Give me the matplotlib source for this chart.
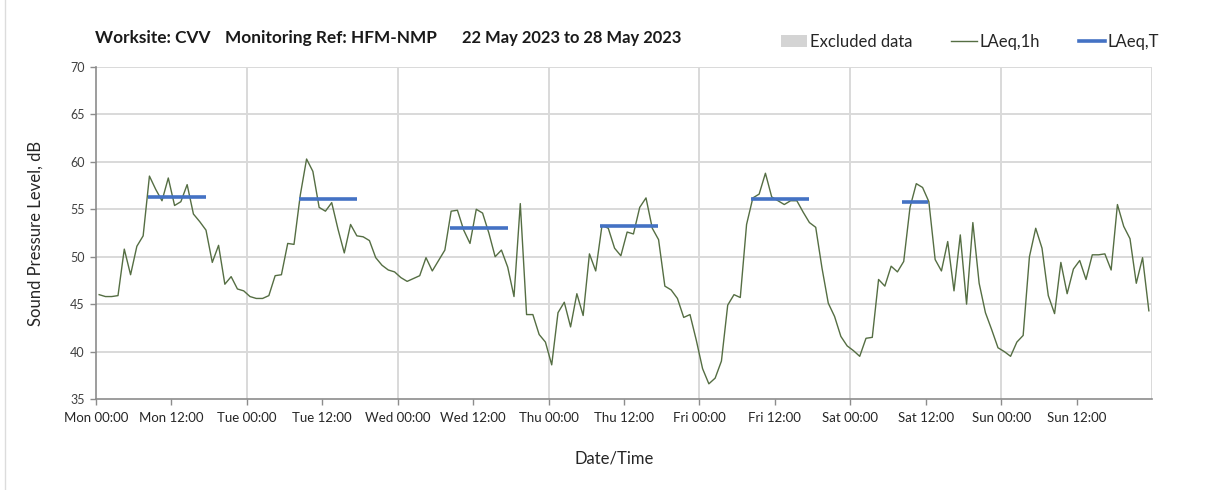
import matplotlib
matplotlib.use("Agg")
import matplotlib.pyplot as plt
from matplotlib.lines import Line2D
from matplotlib.patches import Patch
import numpy as np

plt.rcParams['font.family'] = ['Lato', 'DejaVu Sans']

# ---------------- data ----------------
laeq_1h_mon = [46.0, 45.8, 45.8, 45.9, 50.8, 48.1, 51.1, 52.2, 58.5, 57.1, 55.9, 58.3,
               55.4, 55.8, 57.6, 54.5, 53.7, 52.8, 49.4, 51.2, 47.1, 47.9, 46.6, 46.4]
laeq_1h_tue = [45.8, 45.6, 45.6, 45.9, 48.0, 48.1, 51.4, 51.3, 56.5, 60.3, 59.0, 55.2,
               54.8, 55.7, 52.9, 50.4, 53.4, 52.2, 52.1, 51.7, 49.9, 49.1, 48.6, 48.4]
laeq_1h_wed = [47.8, 47.4, 47.7, 48.0, 49.9, 48.5, 49.6, 50.7, 54.8, 54.9, 52.8, 51.4,
               55.0, 54.6, 52.5, 50.0, 50.7, 48.9, 45.8, 55.6, 43.9, 43.9, 41.8, 41.0]
laeq_1h_thu = [38.6, 44.1, 45.2, 42.6, 46.1, 43.8, 50.3, 48.5, 53.3, 53.0, 50.9, 50.1,
               52.6, 52.4, 55.2, 56.2, 53.0, 51.8, 46.9, 46.5, 45.6, 43.6, 43.9, 41.2]
laeq_1h_fri = [38.2, 36.6, 37.2, 39.0, 44.9, 46.0, 45.7, 53.4, 56.2, 56.6, 58.8, 56.3,
               55.9, 55.5, 55.9, 55.9, 54.7, 53.6, 53.1, 48.8, 45.1, 43.7, 41.6, 40.6]
laeq_1h_sat = [40.1, 39.5, 41.4, 41.5, 47.6, 46.9, 49.0, 48.4, 49.5, 55.2, 57.7, 57.3,
               55.8, 49.7, 48.5, 51.6, 46.4, 52.3, 45.0, 53.6, 47.2, 44.1, 42.3, 40.4]
laeq_1h_sun = [40.0, 39.5, 41.0, 41.7, 50.0, 53.0, 50.9, 45.9, 44.0, 49.4, 46.1, 48.7,
               49.6, 47.6, 50.2, 50.2, 50.3, 48.6, 55.5, 53.2, 51.9, 47.2, 49.9, 44.3]

# LAeq,T periods: day index, start / end (hour of day), level
laeq_t_day = [0, 1, 2, 3, 4, 5]
laeq_t_start = [8.25, 8.25, 8.25, 8.25, 8.25, 8.25]
laeq_t_end = [17.5, 17.5, 17.5, 17.45, 17.45, 12.4]
laeq_t_val = [56.3, 56.1, 53.0, 53.2, 56.1, 55.8]

tick_labels = ["Mon 00:00", "Mon 12:00", "Tue 00:00", "Tue 12:00", "Wed 00:00",
               "Wed 12:00", "Thu 00:00", "Thu 12:00", "Fri 00:00", "Fri 12:00",
               "Sat 00:00", "Sat 12:00", "Sun 00:00", "Sun 12:00"]

# ---------------- figure ----------------
W, H = 1208, 490
fig = plt.figure(figsize=(W / 100, H / 100), dpi=100)
ax = fig.add_axes([96 / W, 1 - 399 / H, (1152 - 96) / W, (399 - 67) / H])

hourly = np.array(laeq_1h_mon + laeq_1h_tue + laeq_1h_wed + laeq_1h_thu +
                  laeq_1h_fri + laeq_1h_sat + laeq_1h_sun)
x = np.arange(len(hourly)) + 0.5

green = '#556e43'
blue = '#4472c4'
grid_c = '#d9d9d9'
axis_c = '#8c8c8c'
text_c = '#262626'

ax.plot(x, hourly, color=green, lw=1.0, zorder=3)
for d, s, e, v in zip(laeq_t_day, laeq_t_start, laeq_t_end, laeq_t_val):
    ax.plot([d * 24 + s, d * 24 + e], [v, v], color=blue, lw=2.6,
            solid_capstyle='butt', zorder=4)

ax.set_xlim(0, 168)
ax.set_ylim(35, 70)
ax.set_xticks(np.arange(0, 168, 12))
ax.set_xticklabels(tick_labels, fontsize=9.5, color=text_c)
ax.set_yticks(np.arange(35, 71, 5))
ax.tick_params(axis='y', labelsize=9, colors=axis_c, labelcolor='#404040',
               length=4, width=1, direction='out', pad=4)
ax.tick_params(axis='x', colors=axis_c, labelcolor=text_c,
               length=4, width=1, direction='out', pad=5)

# gridlines
for yv in np.arange(40, 71, 5):
    ax.axhline(yv, color=grid_c, lw=1.4, zorder=1)
for xv in np.arange(24, 169, 24):
    ax.axvline(xv, color=grid_c, lw=1.4, zorder=1)

for sp in ['top', 'right']:
    ax.spines[sp].set_visible(False)
for sp in ['left', 'bottom']:
    ax.spines[sp].set_color(axis_c)
    ax.spines[sp].set_linewidth(1.2)
    ax.spines[sp].set_zorder(2)

ax.set_ylabel("Sound Pressure Level, dB", fontsize=12, color=text_c)
ax.yaxis.set_label_coords(-52 / (1152 - 96), 0.5)
fig.text(614 / W, 1 - 458 / H, "Date/Time", fontsize=12, color=text_c,
         ha='center', va='center')

# title pieces
ty = 1 - 38 / H
tfs = 12.4
fig.text(95 / W, ty, "Worksite: CVV", fontsize=tfs, weight='bold', color='#1a1a1a',
         ha='left', va='center')
fig.text(225 / W, ty, "Monitoring Ref: HFM-NMP", fontsize=tfs, weight='bold',
         color='#1a1a1a', ha='left', va='center')
fig.text(462 / W, ty, "22 May 2023 to 28 May 2023", fontsize=tfs * 0.96, weight='bold',
         color='#1a1a1a', ha='left', va='center')

# legend
handles = [Patch(facecolor='#d4d4d4', edgecolor='none', label='Excluded data'),
           Line2D([], [], color=green, lw=1.0, label='LAeq,1h'),
           Line2D([], [], color=blue, lw=2.6, label='LAeq,T')]
fig.legend(handles=handles, loc='center', bbox_to_anchor=(970 / W, 1 - 42 / H),
           ncol=3, frameon=False, fontsize=12, handlelength=1.6,
           handletextpad=0.15, columnspacing=2.3, labelcolor=text_c,
           handleheight=0.7)

# left frame line of the figure
fig.add_artist(Line2D([5 / W, 5 / W], [0, 1], color='#dcdcdc', lw=1.0,
                      transform=fig.transFigure))

fig.savefig("out.png", dpi=100)
